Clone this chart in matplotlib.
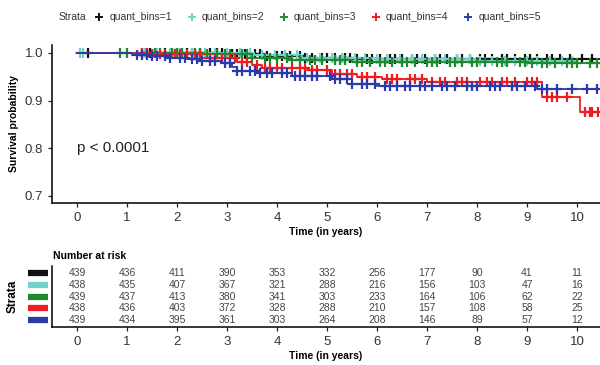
import numpy as np
import matplotlib
matplotlib.use('Agg')
import matplotlib.pyplot as plt
from matplotlib.lines import Line2D

# strata names and colours
strata = ['quant_bins=1', 'quant_bins=2', 'quant_bins=3', 'quant_bins=4', 'quant_bins=5']
colors = ['#111111', '#6fd3cc', '#1e8a2e', '#f01c22', '#2a3aa8']

# survival step functions (time, survival)
black_t = [0, 3.0, 3.8, 4.5, 5.5, 7.0, 10.6]
black_s = [1.0, 0.997, 0.993, 0.99, 0.988, 0.987, 0.987]
cyan_t = [0, 3.5, 4.5, 6.0, 8.0, 10.0]
cyan_s = [1.0, 0.995, 0.99, 0.987, 0.984, 0.984]
green_t = [0, 2.5, 3.5, 4.3, 5.5, 9.0, 10.6]
green_s = [1.0, 0.997, 0.99, 0.985, 0.981, 0.978, 0.978]
red_t = [0, 1.5, 2.5, 3.2, 3.5, 3.7, 4.6, 5.1, 5.6, 6.1, 7.0, 9.3, 10.05, 10.6]
red_s = [1.0, 0.997, 0.99, 0.981, 0.975, 0.968, 0.965, 0.955, 0.95, 0.945, 0.938, 0.908,
         0.876, 0.876]
blue_t = [0, 1.1, 1.5, 1.8, 2.2, 2.5, 2.9, 3.1, 3.2, 3.6, 4.3, 5.1, 5.5, 6.0, 9.2, 10.6]
blue_s = [1.0, 0.996, 0.993, 0.99, 0.987, 0.984, 0.978, 0.97, 0.962, 0.957, 0.952, 0.945,
          0.935, 0.93, 0.925, 0.925]

# censoring times
black_cens = [0.22, 1.3, 1.45, 1.55, 1.75, 1.9, 2.0, 2.2, 2.3, 2.45, 2.65, 2.8, 2.9, 3.1, 3.2,
              3.35, 3.55, 3.65, 3.8, 4.0, 4.1, 4.25, 4.45, 4.55, 4.7, 4.9, 5.0, 5.15, 5.35,
              5.45, 5.6, 5.8, 5.9, 6.05, 6.25, 6.35, 6.5, 6.7, 6.8, 6.95, 7.15, 7.25, 7.4,
              7.6, 7.7, 7.85, 8.05, 8.15, 8.3, 8.5, 8.6, 8.75, 8.95, 9.05, 9.2, 9.4, 9.5,
              9.65, 9.85, 10.1, 10.3]
cyan_cens = [0.05, 0.12, 1.35, 1.6, 1.85, 2.05, 2.3, 2.55, 2.75, 3.0, 3.25, 3.45, 3.7, 3.95,
             4.15, 4.4, 4.6, 4.85, 5.1, 5.3, 5.55, 5.75, 6.0, 6.2, 6.45, 6.7, 6.9, 7.15,
             7.35, 7.6, 7.85, 8.05, 8.3, 8.55, 8.75, 9.0, 9.2, 9.45, 9.7, 9.9]
green_cens = [0.85, 1.0, 1.4, 1.55, 1.65, 1.9, 2.0, 2.1, 2.35, 2.45, 2.6, 2.8, 2.95, 3.05,
              3.3, 3.4, 3.5, 3.75, 3.85, 4.0, 4.2, 4.3, 4.45, 4.65, 4.75, 4.9, 5.15, 5.25,
              5.35, 5.6, 5.7, 5.85, 6.05, 6.15, 6.3, 6.5, 6.6, 6.75, 7.0, 7.1, 7.2, 7.45,
              7.55, 7.7, 7.9, 8.0, 8.15, 8.4, 8.5, 8.6, 8.85, 8.95, 9.1, 9.3, 9.4, 9.55,
              9.8, 9.9, 10.0, 10.25, 10.4]
red_cens = [1.3, 1.4, 1.5, 1.65, 1.75, 1.95, 2.05, 2.2, 2.35, 2.45, 2.65, 2.75, 2.9, 3.05,
            3.15, 3.3, 3.4, 3.6, 3.75, 3.85, 4.0, 4.1, 4.3, 4.45, 4.55, 4.7, 4.8, 5.0, 5.15,
            5.25, 5.4, 5.5, 5.7, 5.8, 5.95, 6.2, 6.3, 6.4, 6.65, 6.75, 6.9, 7.1, 7.25, 7.35,
            7.6, 7.7, 7.8, 8.05, 8.2, 8.3, 8.5, 8.6, 8.75, 9.0, 9.1, 9.2, 9.4, 9.5, 9.6,
            9.8, 10.15, 10.25, 10.3, 10.42]
blue_cens = [1.2, 1.3, 1.4, 1.5, 1.6, 1.75, 1.85, 2.05, 2.15, 2.3, 2.4, 2.5, 2.65, 2.75,
             2.95, 3.05, 3.2, 3.3, 3.45, 3.55, 3.65, 3.8, 3.9, 4.1, 4.2, 4.35, 4.45, 4.55,
             4.7, 4.8, 5.05, 5.15, 5.25, 5.4, 5.5, 5.7, 5.8, 5.95, 6.15, 6.25, 6.4, 6.55,
             6.65, 6.85, 6.95, 7.1, 7.3, 7.4, 7.55, 7.8, 7.9, 8.0, 8.25, 8.35, 8.45, 8.7,
             8.8, 8.95, 9.15, 9.3, 9.4, 9.6, 9.9, 10.2, 10.4]

# number at risk table
risk_times = [0, 1, 2, 3, 4, 5, 6, 7, 8, 9, 10]
risk_1 = [439, 436, 411, 390, 353, 332, 256, 177, 90, 41, 11]
risk_2 = [438, 435, 407, 367, 321, 288, 216, 156, 103, 47, 16]
risk_3 = [439, 437, 413, 380, 341, 303, 233, 164, 106, 62, 22]
risk_4 = [438, 436, 403, 372, 328, 288, 210, 157, 108, 58, 25]
risk_5 = [439, 434, 395, 361, 303, 264, 208, 146, 89, 57, 12]

curves = [(black_t, black_s, black_cens), (cyan_t, cyan_s, cyan_cens),
          (green_t, green_s, green_cens), (red_t, red_s, red_cens),
          (blue_t, blue_s, blue_cens)]
risks = [risk_1, risk_2, risk_3, risk_4, risk_5]

plt.rcParams['font.family'] = ['Liberation Sans', 'DejaVu Sans']

fig = plt.figure(figsize=(6, 3.65), dpi=100)
ax = fig.add_axes([0.0867, 0.444, 0.9133, 0.433])

for (t, s, cens), col in zip(curves, colors):
    t = np.array(t)
    s = np.array(s)
    ax.step(t, s, where='post', color=col, lw=1.3)
    c = np.array(cens)
    idx = np.searchsorted(t, c, side='right') - 1
    ax.plot(c, s[idx], ls='none', marker='+', color=col, ms=7, mew=1.6)

ax.set_xlim(-0.5, 10.46)
ax.set_ylim(0.6853, 1.0168)
ax.set_xticks(range(0, 11))
ax.set_yticks([0.7, 0.8, 0.9, 1.0])
ax.set_yticklabels(['0.7', '0.8', '0.9', '1.0'])
for sp in ['top', 'right']:
    ax.spines[sp].set_visible(False)
for sp in ['left', 'bottom']:
    ax.spines[sp].set_linewidth(1.1)
ax.tick_params(labelsize=9.5, length=3, width=0.9, colors='#222222', labelcolor='#333333')
ax.set_xlabel('Time (in years)', fontsize=7.5, fontweight='bold', labelpad=2)
ax.set_ylabel('Survival probability', fontsize=7.5, fontweight='bold', labelpad=4)
ax.text(0, 0.8, 'p < 0.0001', fontsize=11, va='center', ha='left', color='#222222')

# legend
fig.text(0.098, 0.953, 'Strata', fontsize=7.5, va='center', ha='left', color='#333333')
handles = [Line2D([], [], ls='none', marker='+', color=c, ms=6, mew=1.4) for c in colors]
fig.legend(handles, strata, loc='center left', bbox_to_anchor=(0.157, 0.953), ncol=5,
           frameon=False, fontsize=7.5, handlelength=1.0, handletextpad=0.45,
           columnspacing=1.4, borderpad=0, borderaxespad=0, labelcolor='#333333')

# risk table
axr = fig.add_axes([0.0867, 0.104, 0.9133, 0.167])
for i, (r, col) in enumerate(zip(risks, colors)):
    yy = 4 - i
    for tt, n in zip(risk_times, r):
        axr.text(tt, yy, str(n), fontsize=7.5, ha='center', va='center', color='#444444')
    axr.plot([-0.044, -0.008], [yy, yy], color=col, lw=4.5, solid_capstyle='butt',
             transform=axr.get_yaxis_transform(), clip_on=False)
axr.set_xlim(-0.5, 10.46)
axr.set_ylim(-0.6, 4.6)
axr.set_xticks(range(0, 11))
axr.set_yticks([])
for sp in ['top', 'right']:
    axr.spines[sp].set_visible(False)
for sp in ['left', 'bottom']:
    axr.spines[sp].set_linewidth(1.1)
axr.tick_params(labelsize=9.5, length=3, width=0.9, colors='#222222', labelcolor='#333333')
axr.set_xlabel('Time (in years)', fontsize=7.5, fontweight='bold', labelpad=2)
axr.set_ylabel('Strata', fontsize=8.5, fontweight='bold', labelpad=24)
fig.text(0.088, 0.298, 'Number at risk', fontsize=7.5, fontweight='bold', va='center', ha='left')

fig.savefig('out.png', dpi=100)
